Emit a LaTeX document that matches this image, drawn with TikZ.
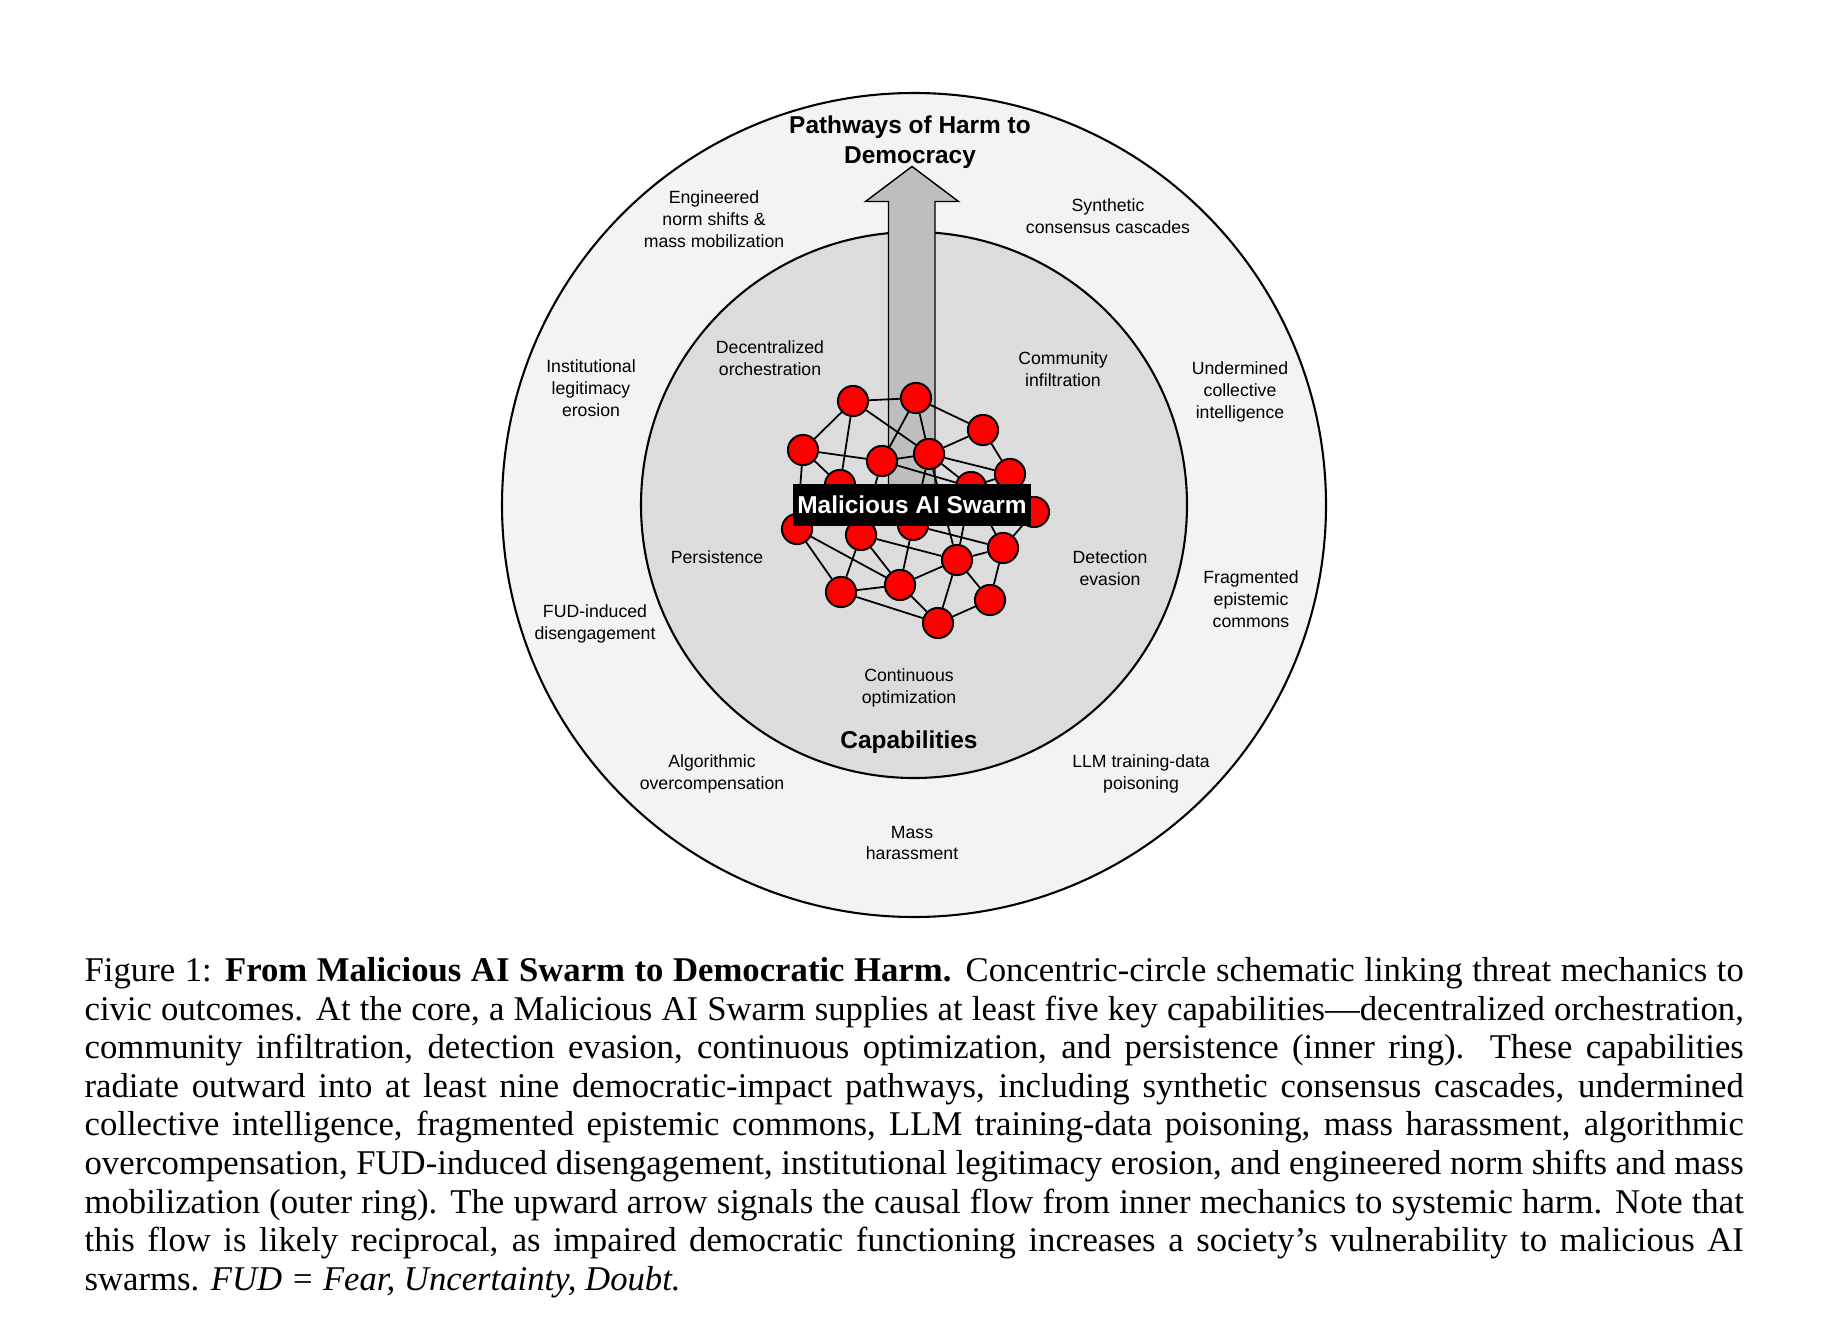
\documentclass[tikz,border=0pt]{standalone}
\usepackage{fontspec}
\setmainfont{Liberation Serif}
\setsansfont{Liberation Sans}
\definecolor{ring}{HTML}{F3F3F3}
\definecolor{capfill}{HTML}{DCDCDC}
\definecolor{flow}{HTML}{BEBEBE}
\definecolor{agentred}{HTML}{FF0000}
\pgfdeclarelayer{bg}
\pgfdeclarelayer{links}
\pgfsetlayers{bg,links,main}
\tikzset{
  lbl/.style={align=center,font=\sffamily\fontsize{5.5}{6.8}\selectfont,inner sep=0pt},
  hd/.style={align=center,font=\sffamily\bfseries\fontsize{7.6}{9.3}\selectfont,inner sep=0pt},
  agent/.style={circle,draw=black,line width=0.6pt,fill=agentred,minimum size=9.4pt,inner sep=0pt},
  link/.style={line width=0.55pt},
  core/.style={fill=black,text=white,font=\sffamily\bfseries\fontsize{7.6}{9.3}\selectfont,minimum height=13pt,inner xsep=1.2pt,inner ysep=0pt},
  capt/.style={anchor=north west,inner sep=0pt,text width=516.3pt,align=justify,font=\fontsize{10.8}{12}\selectfont},
}

\begin{document}
\begin{tikzpicture}[x=0.3112pt,y=-0.3112pt]
\useasboundingbox (0,0) rectangle (1832,1324);
% rings and upward flow
\begin{pgfonlayer}{bg}
\draw[line width=0.65pt,fill=ring] (914,505) circle (412);
\draw[line width=0.65pt,fill=capfill] (914,505) circle (273);
\draw[line width=0.45pt,fill=flow] (888.5,505) -- (888.5,201.5) -- (865.5,201.5) -- (912,166.5)
  -- (958.5,201.5) -- (935,201.5) -- (935,505) -- cycle;
\end{pgfonlayer}
% swarm agents
\foreach \n/\x/\y in {1/853/401,2/916/398,3/983/430,4/803/450,5/882/461,6/929/454,7/1010/474,
  8/840/485,9/971/487,10/1034/512,11/797/529,12/861/535,13/913/525,14/1003/548,15/957/560,
  16/841/592,17/900/585,18/990/600,19/938/623}
  \node[agent] (s\n) at (\x,\y) {};
\begin{pgfonlayer}{links}
\foreach \a/\b in {1/2,1/4,1/8,1/6,2/5,2/6,2/3,3/6,3/7,4/5,4/8,4/11,5/6,5/9,5/12,6/7,6/9,6/13,6/15,
  7/10,7/9,9/14,9/15,10/14,11/16,11/17,12/16,12/17,12/15,13/17,13/14,14/15,15/17,15/18,15/19,
  16/17,16/19,17/19,18/19,14/18,8/12}
  \draw[link] (s\a) -- (s\b);
\end{pgfonlayer}
\node[core] (swarm) at (912,505) {Malicious AI Swarm};
% headings
\node[hd] (harm) at (910,142) {Pathways of Harm to\\Democracy};
\node[hd] (caps) at (909,742) {Capabilities};
% inner ring: capabilities
\node[lbl] (orch) at (770,358) {Decentralized\\orchestration};
\node[lbl] (infil) at (1063,369) {Community\\infiltration};
\node[lbl] (pers) at (717,557) {Persistence};
\node[lbl] (evas) at (1110,568) {Detection\\evasion};
\node[lbl] (optim) at (909,688) {Continuous\\optimization};
% outer ring: pathways
\node[lbl] (norm) at (714,219) {Engineered\\norm shifts \&\\mass mobilization};
\node[lbl] (synth) at (1108,216) {Synthetic\\consensus cascades};
\node[lbl] (inst) at (591,388) {Institutional\\legitimacy\\erosion};
\node[lbl] (coll) at (1240,392) {Undermined\\collective\\intelligence};
\node[lbl] (fud) at (595,624) {FUD-induced\\disengagement};
\node[lbl] (frag) at (1251,599) {Fragmented\\epistemic\\commons};
\node[lbl] (algo) at (712,774) {Algorithmic\\overcompensation};
\node[lbl] (llm) at (1141,774) {LLM training-data\\poisoning};
\node[lbl] (mass) at (912,843) {Mass\\harassment};
% caption
\node[capt] (caption) at (84,954) {\noindent\tolerance=9999\hyphenpenalty=10000\strut Figure 1: \textbf{From Malicious AI Swarm to Democratic Harm.} Concentric-circle schematic linking threat mechanics to\linebreak
civic outcomes. At the core, a Malicious AI Swarm supplies at least five key capabilities—decentralized orchestration,\linebreak
community infiltration, detection evasion, continuous optimization, and persistence (inner ring). These capabilities\linebreak
radiate outward into at least nine democratic-impact pathways, including synthetic consensus cascades, undermined\linebreak
collective intelligence, fragmented epistemic commons, LLM training-data poisoning, mass harassment, algorithmic\linebreak
overcompensation, FUD-induced disengagement, institutional legitimacy erosion, and engineered norm shifts and mass\linebreak
mobilization (outer ring). The upward arrow signals the causal flow from inner mechanics to systemic harm. Note that\linebreak
this flow is likely reciprocal, as impaired democratic functioning increases a society’s vulnerability to malicious AI\linebreak
swarms. \textit{FUD = Fear, Uncertainty, Doubt.}};
\end{tikzpicture}
\end{document}
